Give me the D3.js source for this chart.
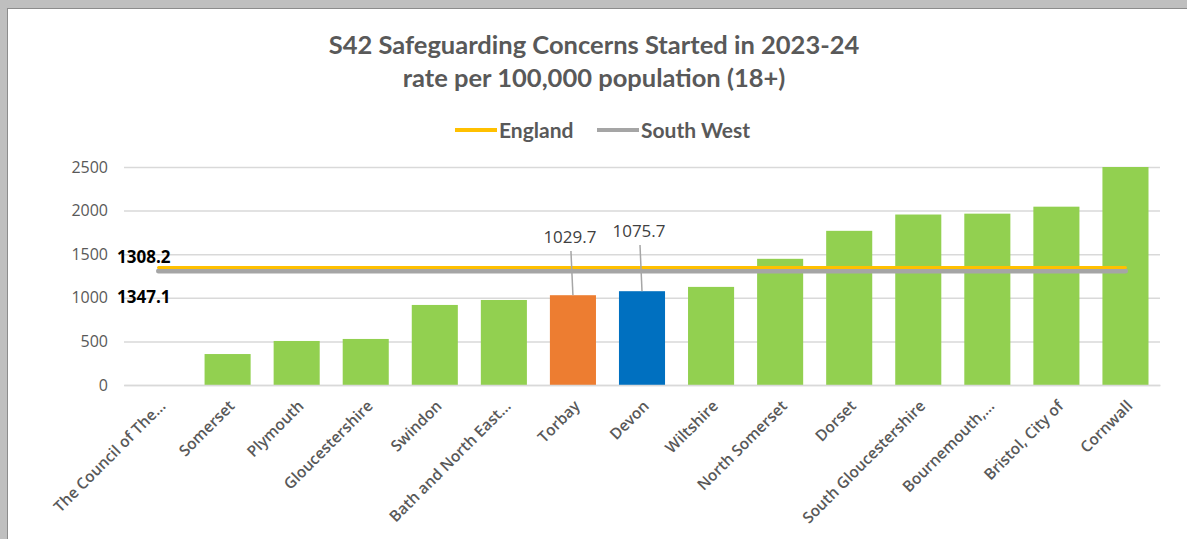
<!DOCTYPE html>
<html>
<head>
<meta charset="utf-8">
<script src="https://cdn.jsdelivr.net/npm/d3@7"></script>
<style>
  html, body { margin: 0; padding: 0; background: #bfbfbf; }
  .frame { position: absolute; left: 7px; top: 8px; width: 1180px; height: 531px; background: #fff;
           border-left: 1px solid #8c8c8c; border-top: 1px solid #8c8c8c; box-sizing: border-box; }
  svg { position: absolute; left: 0; top: 0; }
</style>
</head>
<body>
<div class="frame"></div>
<div id="chart"></div>
<script>
const categories = ['The Council of The...', 'Somerset', 'Plymouth', 'Gloucestershire', 'Swindon',
  'Bath and North East...', 'Torbay', 'Devon', 'Wiltshire', 'North Somerset', 'Dorset',
  'South Gloucestershire', 'Bournemouth,...', 'Bristol, City of', 'Cornwall'];
const rates = [0, 355, 505, 528, 918, 975, 1029.7, 1075.7, 1125, 1447, 1768, 1955, 1965, 2045, 2510];
const englandRate = 1347.1;
const southWestRate = 1308.2;
const yTicks = [0, 500, 1000, 1500, 2000, 2500];
const labelledBars = ['Torbay', 'Devon'];

const W = 1187, H = 539;
const margin = { top: 167, right: 27, bottom: 154, left: 124 };
const width = W - margin.left - margin.right;
const height = H - margin.top - margin.bottom;

const svg = d3.select('#chart').append('svg')
  .attr('width', W).attr('height', H);

// titles
const title = svg.append('text')
  .attr('text-anchor', 'middle')
  .attr('fill', '#595959')
  .style('font-family', 'Lato, sans-serif').style('font-weight', 700).style('font-size', '25.5px');
title.append('tspan').attr('x', 594).attr('y', 54).text('S42 Safeguarding Concerns Started in 2023-24');
title.append('tspan').attr('x', 594).attr('y', 87).text('rate per 100,000 population (18+)');

// legend
const legend = [
  { name: 'England', color: '#ffc000', x: 455 },
  { name: 'South West', color: '#a5a5a5', x: 597 }
];
const lg = svg.append('g').selectAll('g').data(legend).enter().append('g')
  .attr('transform', (d) => `translate(${d.x},130)`);
lg.append('line').attr('x1', 0).attr('x2', 42).attr('y1', 0).attr('y2', 0)
  .attr('stroke', (d) => d.color).attr('stroke-width', 4);
lg.append('text').attr('x', 44).attr('y', 7.5)
  .attr('fill', '#595959')
  .style('font-family', 'Lato, sans-serif').style('font-weight', 700).style('font-size', '21px')
  .text((d) => d.name);

const g = svg.append('g').attr('transform', `translate(${margin.left},${margin.top})`);

const x = d3.scaleBand().domain(categories).range([0, width]).paddingInner(0.333).paddingOuter(0.1665);
const y = d3.scaleLinear().domain([0, 2500]).range([height, 0]).clamp(true);

// gridlines + y labels
const yAxis = g.append('g')
  .call(d3.axisLeft(y).tickValues(yTicks).tickFormat(d3.format('d')).tickSize(-width).tickPadding(16));
yAxis.select('.domain').remove();
yAxis.selectAll('.tick line').attr('stroke', '#d9d9d9').attr('stroke-width', 1.5);
yAxis.selectAll('.tick text').attr('fill', '#595959')
  .style('font-family', '"Open Sans", sans-serif').style('font-size', '16px');

// bars
const barColor = (d) => d === 'Torbay' ? '#ed7d31' : d === 'Devon' ? '#0070c0' : '#92d050';
g.selectAll('.bar').data(categories).enter().append('rect')
  .attr('class', 'bar')
  .attr('x', (d) => x(d))
  .attr('width', x.bandwidth())
  .attr('y', (d, i) => y(rates[i]))
  .attr('height', (d, i) => height - y(rates[i]))
  .attr('fill', barColor);

// x axis
const xAxis = g.append('g').attr('transform', `translate(0,${height})`)
  .call(d3.axisBottom(x).tickSize(0).tickPadding(0));
xAxis.select('.domain').attr('stroke', '#d9d9d9').attr('stroke-width', 1.5);
xAxis.selectAll('.tick text')
  .attr('fill', '#595959')
  .style('font-family', '"Open Sans", sans-serif').style('font-weight', 600).style('font-size', '15.5px')
  .attr('text-anchor', 'end')
  .attr('dy', 0)
  .attr('transform', 'translate(8,22) rotate(-45)');

// reference lines
const x0 = x(categories[0]) + x.bandwidth() / 2;
const x1 = x(categories[categories.length - 1]) + x.bandwidth() / 2;
g.append('line').attr('x1', x0).attr('x2', x1)
  .attr('y1', y(southWestRate)).attr('y2', y(southWestRate))
  .attr('stroke', '#a5a5a5').attr('stroke-width', 5).attr('stroke-linecap', 'round');
g.append('line').attr('x1', x0).attr('x2', x1)
  .attr('y1', y(englandRate)).attr('y2', y(englandRate))
  .attr('stroke', '#ffc000').attr('stroke-width', 3).attr('stroke-linecap', 'round');

// reference line labels (as in the original)
const refLabel = (txt, yy) => g.append('text').attr('x', -7).attr('y', yy)
  .attr('fill', '#000').style('font-family', '"Open Sans", sans-serif')
  .style('font-weight', 700).style('font-size', '17px').text(txt);
refLabel(southWestRate.toFixed(1), y(englandRate) - 5);
refLabel(englandRate.toFixed(1), y(englandRate) + 35);

// data labels with leader lines
const labelY = { Torbay: 76, Devon: 70 };
const lab = g.selectAll('.dlabel').data(labelledBars).enter().append('g');
lab.append('line')
  .attr('x1', (d) => x(d) + x.bandwidth() / 2 - 2)
  .attr('x2', (d) => x(d) + x.bandwidth() / 2)
  .attr('y1', (d) => labelY[d] + 8)
  .attr('y2', (d) => y(rates[categories.indexOf(d)]))
  .attr('stroke', '#a6a6a6').attr('stroke-width', 1.5);
lab.append('text')
  .attr('x', (d) => x(d) + x.bandwidth() / 2 - 3)
  .attr('y', (d) => labelY[d])
  .attr('text-anchor', 'middle')
  .attr('fill', '#404040')
  .style('font-family', '"Open Sans", sans-serif').style('font-size', '17px')
  .text((d) => rates[categories.indexOf(d)].toFixed(1));
</script>
</body>
</html>
